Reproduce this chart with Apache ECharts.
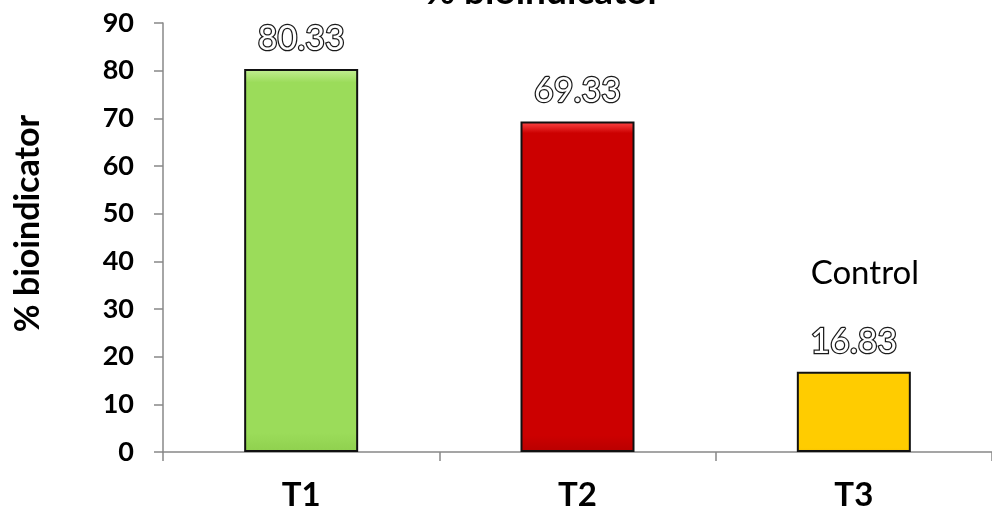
<!DOCTYPE html>
<html>
<head>
<meta charset="utf-8">
<script src="https://cdn.jsdelivr.net/npm/echarts@6/dist/echarts.min.js"></script>
<style>
  html, body { margin: 0; padding: 0; background: #fff; }
  #chart { width: 992px; height: 515px; }
</style>
</head>
<body>
<div id="chart"></div>
<script>
// Treatments and their % bioindicator values
const categories = ['T1', 'T2', 'T3'];
const values = [80.33, 69.33, 16.83];
const notes = ['', '', 'Control'];
const barColors = ['#9bdc5a', '#cc0000', '#ffcc00'];
const barTops = ['#c4ee96', '#ff4a4a', '#fff05a'];
const barBottoms = ['#8fd04e', '#b80000', '#f5c000'];
const yTicks = [0, 10, 20, 30, 40, 50, 60, 70, 80, 90];

const FONT = 'Lato, "Open Sans", sans-serif';

// light top edge and slightly darker foot give the bars a bevelled look
function bevel(i) {
  return {
    type: 'linear', x: 0, y: 0, x2: 0, y2: 1,
    colorStops: [
      { offset: 0, color: barTops[i] },
      { offset: 0.035, color: barColors[i] },
      { offset: 0.95, color: barColors[i] },
      { offset: 1, color: barBottoms[i] }
    ]
  };
}

const valueStyle = {
  fontFamily: FONT,
  fontSize: 34,
  color: '#ffffff',
  textBorderColor: '#1a1a1a',
  textBorderWidth: 2.5,
  lineHeight: 36
};

const seriesData = values.map((v, i) => {
  const item = {
    value: v,
    itemStyle: { color: bevel(i), borderColor: '#111', borderWidth: 2 }
  };
  if (notes[i]) {
    item.label = {
      formatter: '{note|' + notes[i] + '}\n{val|{c}}',
      rich: {
        note: {
          fontFamily: FONT, fontSize: 33, fontWeight: 'normal', color: '#000',
          textBorderWidth: 0, lineHeight: 100, padding: [0, 0, 0, 22]
        },
        val: valueStyle
      }
    };
  }
  return item;
});

const chart = echarts.init(document.getElementById('chart'));
chart.setOption({
  animation: false,
  backgroundColor: '#fff',
  title: {
    text: '% bioindicator',
    left: 538,
    textAlign: 'center',
    top: -31,
    textStyle: { fontFamily: FONT, fontSize: 37, fontWeight: 'bold', color: '#000' }
  },
  grid: { left: 163, top: 23, width: 834, height: 429, containLabel: false },
  xAxis: {
    type: 'category',
    data: categories,
    axisLine: { lineStyle: { color: '#888', width: 1.5 } },
    axisTick: { show: true, length: 9, alignWithLabel: false, lineStyle: { color: '#888', width: 1.5 } },
    axisLabel: { margin: 27, fontFamily: FONT, fontSize: 33, fontWeight: 'bold', color: '#000' }
  },
  yAxis: {
    type: 'value',
    min: 0,
    max: 90,
    interval: 10,
    name: '% bioindicator',
    nameLocation: 'middle',
    nameGap: 118,
    nameRotate: 90,
    nameTextStyle: {
      fontFamily: FONT, fontSize: 34, fontWeight: 'bold', color: '#000',
      padding: [0, 0, 0, 28]
    },
    axisLine: { show: true, lineStyle: { color: '#888', width: 1.5 } },
    axisTick: { show: true, length: 9, lineStyle: { color: '#888', width: 1.5 } },
    splitLine: { show: false },
    axisLabel: {
      margin: 29,
      fontFamily: FONT, fontSize: 27, fontWeight: 'bold', color: '#000',
      formatter: v => (yTicks.indexOf(v) >= 0 ? String(v) : '')
    }
  },
  series: [{
    type: 'bar',
    barWidth: 114,
    data: seriesData,
    label: {
      show: true,
      position: 'top',
      distance: 12,
      formatter: '{c}',
      ...valueStyle
    }
  }]
});
</script>
</body>
</html>
